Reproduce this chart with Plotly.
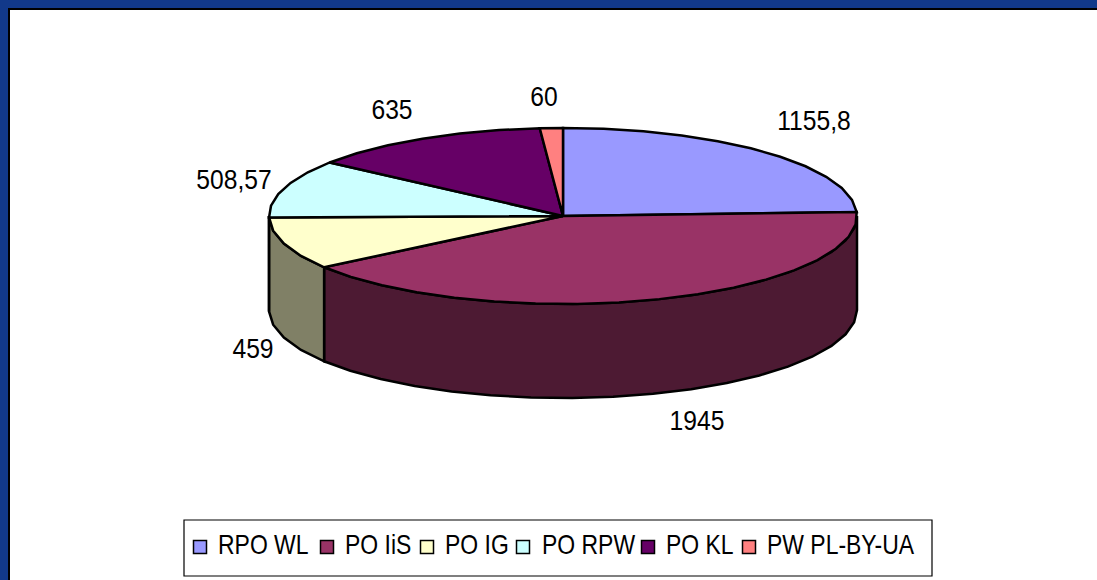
import math
import plotly.graph_objects as go

categories = ["RPO WL", "PO IiS", "PO IG", "PO RPW", "PO KL", "PW PL-BY-UA"]
values = [1155.8, 1945, 459, 508.57, 635, 60]
value_labels = ["1155,8", "1945", "459", "508,57", "635", "60"]
top_colors = ["#9999FF", "#993366", "#FFFFCC", "#CCFFFF", "#660066", "#FF8080"]
side_colors = ["#4D4D80", "#4D1A33", "#808066", "#668080", "#330033", "#804040"]

# pie geometry, in pixels of the 1097x580 page
CX, CY, RX, RY, DEPTH = 563, 216, 294, 88, 94
STEP = 8
label_pos = [(814, 123), (697, 423), (253, 351), (234, 182), (392, 112), (544, 99)]
legend_symbol_x = [200, 327, 427, 523, 648, 749]
legend_text_x = [218, 345, 445, 542, 666, 767]
LEGEND_Y = 547

FONT = "Liberation Sans"
FSIZE = 28
BLUE = "#12398A"


def pt(deg, drop=0):
    a = math.radians(deg)
    return CX + RX * math.sin(a), CY - RY * math.cos(a) + drop


def arc(a0, a1):
    n = max(1, int(round((a1 - a0) / STEP)))
    return [a0 + (a1 - a0) * i / n for i in range(n + 1)]


fig = go.Figure()
total = sum(values)
bounds = [0]
for v in values:
    bounds.append(bounds[-1] + v / total * 360)

# visible outer walls
for i in range(len(values)):
    a0, a1 = max(bounds[i], 90), min(bounds[i + 1], 270)
    if a1 <= a0:
        continue
    angs = arc(a0, a1)
    pts = [pt(a) for a in angs] + [pt(a, DEPTH) for a in reversed(angs)]
    pts.append(pts[0])
    fig.add_trace(go.Scatter(x=[p[0] for p in pts], y=[p[1] for p in pts], mode="lines",
                             fill="toself", fillcolor=side_colors[i],
                             line=dict(color="black", width=2.5), showlegend=False, hoverinfo="skip"))

# top faces
for i in range(len(values)):
    pts = [(CX, CY)] + [pt(a) for a in arc(bounds[i], bounds[i + 1])] + [(CX, CY)]
    fig.add_trace(go.Scatter(x=[p[0] for p in pts], y=[p[1] for p in pts], mode="lines",
                             fill="toself", fillcolor=top_colors[i],
                             line=dict(color="black", width=2.5), showlegend=False,
                             name=categories[i], hoverinfo="skip"))

# value labels
fig.add_trace(go.Scatter(x=[p[0] for p in label_pos], y=[p[1] for p in label_pos], mode="text",
                         text=value_labels, textposition="middle center",
                         textfont=dict(family=FONT, size=FSIZE, color="black"),
                         showlegend=False, hoverinfo="skip"))

# legend entries
fig.add_trace(go.Scatter(x=legend_symbol_x, y=[LEGEND_Y] * len(categories), mode="markers",
                         marker=dict(symbol="square", size=13, color=top_colors,
                                     line=dict(color="black", width=1.5)),
                         showlegend=False, hoverinfo="skip"))
fig.add_trace(go.Scatter(x=legend_text_x, y=[LEGEND_Y] * len(categories), mode="text",
                         text=categories, textposition="middle right",
                         textfont=dict(family=FONT, size=FSIZE, color="black"),
                         showlegend=False, hoverinfo="skip"))

fig.update_layout(
    width=1097, height=580, margin=dict(l=0, r=0, t=0, b=0),
    paper_bgcolor=BLUE, plot_bgcolor=BLUE, showlegend=False,
    xaxis=dict(range=[0, 1097], visible=False, fixedrange=True),
    yaxis=dict(range=[580, 0], visible=False, fixedrange=True),
    shapes=[dict(type="rect", xref="x", yref="y", x0=9, y0=9, x1=1110, y1=590,
                 fillcolor="white", line=dict(color="black", width=2), layer="below"),
            dict(type="rect", xref="x", yref="y", x0=184, y0=520, x1=932, y1=576,
                 fillcolor="white", line=dict(color="black", width=1.2), layer="below")],
)
post = """
document.body.style.margin='0';
document.querySelectorAll('.textpoint text').forEach(function(t){
  var a = t.getAttribute('text-anchor');
  t.style.transformBox='fill-box';
  t.style.transformOrigin=(a==='start'?'left center':'center');
  t.style.transform=(a==='start'?'scaleX(0.82)':'scaleX(0.88)');
});
"""
fig.write_html("out.html", config=dict(displayModeBar=False), post_script=post)
